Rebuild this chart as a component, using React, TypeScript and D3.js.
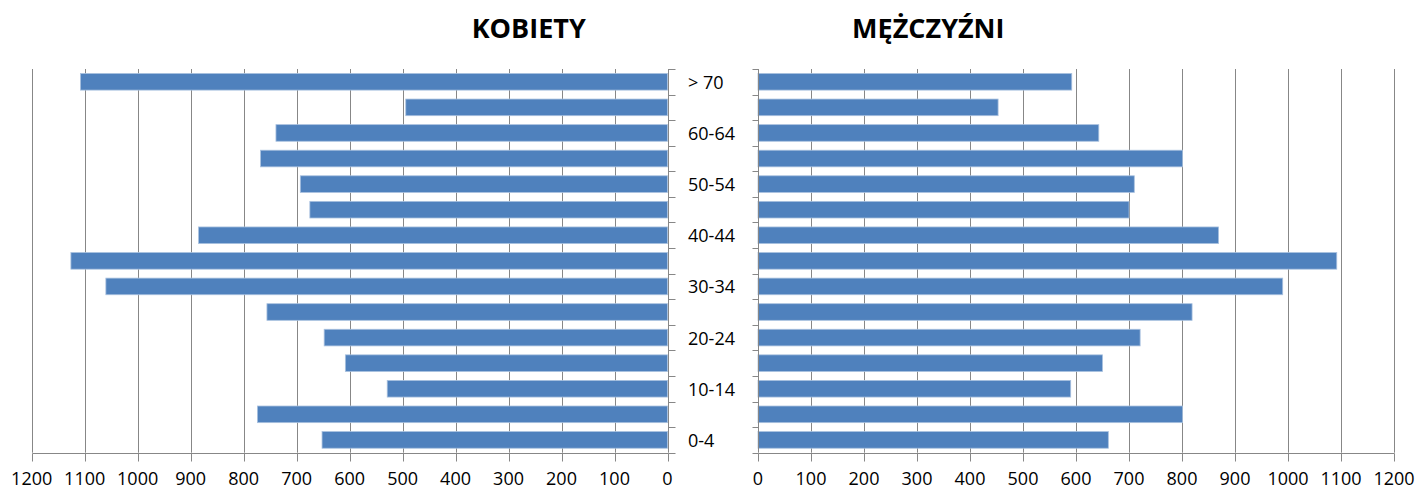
import React from "react";
import * as d3 from "d3";

const categories = ["0-4", "5-9", "10-14", "15-19", "20-24", "25-29", "30-34", "35-39", "40-44", "45-49", "50-54", "55-59", "60-64", "65-69", "> 70"];
const shownLabels = ["0-4", "10-14", "20-24", "30-34", "40-44", "50-54", "60-64", "> 70"];
const kobiety = [652, 774, 529, 608, 648, 756, 1060, 1126, 885, 675, 693, 768, 739, 494, 1108];
const mezczyzni = [661, 801, 590, 650, 721, 819, 990, 1092, 869, 700, 710, 801, 643, 453, 592];
const ticks = [0, 100, 200, 300, 400, 500, 600, 700, 800, 900, 1000, 1100, 1200];

const W = 1420;
const H = 490;
const TOP = 69;
const BOTTOM = 452.7;
const BAR = "#4F81BD";
const GRID = "#878787";
const FONT = "'Open Sans', 'Liberation Sans', sans-serif";

export default function App() {
  const xL = d3.scaleLinear().domain([0, 1200]).range([667.5, 31.7]);
  const xR = d3.scaleLinear().domain([0, 1200]).range([758, 1394]);
  const y = d3
    .scaleBand<string>()
    .domain([...categories].reverse())
    .range([TOP, BOTTOM])
    .paddingInner(0.35)
    .paddingOuter(0.175);
  const step = y.step();
  const boundaries = d3.range(categories.length + 1).map((i) => TOP + i * step);
  const r = (v: number) => Math.round(v) + 0.5;

  return (
    <svg width={W} height={H} style={{ position: "absolute", left: 0, top: 0, background: "#fff" }}>
      {/* titles */}
      <text x={528.7} y={37.5} textAnchor="middle" fontFamily={FONT} fontWeight="bold" fontSize={27} fill="#000">
        KOBIETY
      </text>
      <text x={928.3} y={37.5} textAnchor="middle" fontFamily={FONT} fontWeight="bold" fontSize={27} fill="#000">
        MĘŻCZYŹNI
      </text>

      {/* gridlines */}
      {ticks.filter((t) => t > 0).map((t) => (
        <line key={"gl" + t} x1={r(xL(t))} x2={r(xL(t))} y1={TOP} y2={BOTTOM} stroke={GRID} strokeWidth={1} />
      ))}
      {ticks.filter((t) => t > 0).map((t) => (
        <line key={"gr" + t} x1={r(xR(t))} x2={r(xR(t))} y1={TOP} y2={BOTTOM} stroke={GRID} strokeWidth={1} />
      ))}

      {/* bars */}
      {categories.map((c, i) => (
        <rect
          key={"bl" + c}
          x={xL(kobiety[i])}
          y={y(c)!}
          width={xL(0) - xL(kobiety[i])}
          height={y.bandwidth()}
          fill={BAR}
          stroke="#A9C1DF"
          strokeWidth={0.8}
        />
      ))}
      {categories.map((c, i) => (
        <rect
          key={"br" + c}
          x={xR(0)}
          y={y(c)!}
          width={xR(mezczyzni[i]) - xR(0)}
          height={y.bandwidth()}
          fill={BAR}
          stroke="#A9C1DF"
          strokeWidth={0.8}
        />
      ))}

      {/* category axes */}
      <line x1={r(xL(0))} x2={r(xL(0))} y1={TOP} y2={BOTTOM} stroke={GRID} />
      <line x1={r(xR(0))} x2={r(xR(0))} y1={TOP} y2={BOTTOM} stroke={GRID} />
      {boundaries.map((b, i) => (
        <g key={"cb" + i}>
          <line x1={r(xL(0))} x2={r(xL(0)) + 7} y1={r(b)} y2={r(b)} stroke={GRID} />
          <line x1={r(xR(0)) - 6} x2={r(xR(0))} y1={r(b)} y2={r(b)} stroke={GRID} />
        </g>
      ))}

      {/* category labels */}
      {shownLabels.map((c) => (
        <text key={"cl" + c} x={688} y={y(c)! + y.bandwidth() / 2 + 7} fontFamily={FONT} fontSize={18} fill="#000">
          {c}
        </text>
      ))}

      {/* value axes */}
      <line x1={r(xL(1200))} x2={r(xL(0))} y1={r(BOTTOM)} y2={r(BOTTOM)} stroke={GRID} />
      <line x1={r(xR(0))} x2={r(xR(1200))} y1={r(BOTTOM)} y2={r(BOTTOM)} stroke={GRID} />
      {ticks.map((t) => (
        <g key={"vt" + t}>
          <line x1={r(xL(t))} x2={r(xL(t))} y1={r(BOTTOM)} y2={r(BOTTOM) + 8} stroke={GRID} />
          <line x1={r(xR(t))} x2={r(xR(t))} y1={r(BOTTOM)} y2={r(BOTTOM) + 8} stroke={GRID} />
          <text x={xL(t)} y={485} textAnchor="middle" fontFamily={FONT} fontSize={18} fill="#000">
            {t}
          </text>
          <text x={xR(t)} y={485} textAnchor="middle" fontFamily={FONT} fontSize={18} fill="#000">
            {t}
          </text>
        </g>
      ))}
    </svg>
  );
}
